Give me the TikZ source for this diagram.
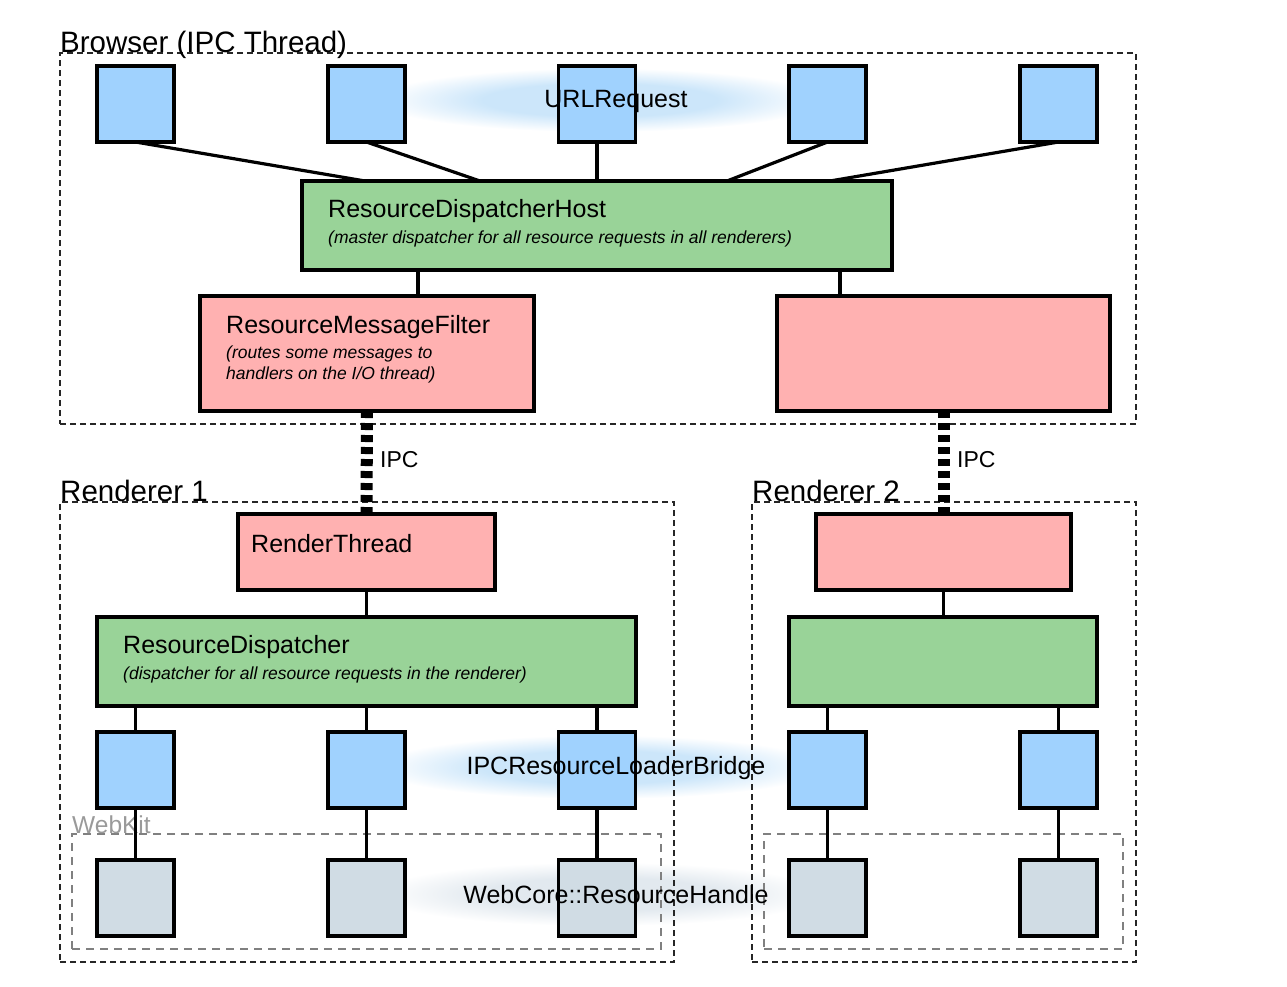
\documentclass[tikz,border=0pt]{standalone}
\usepackage{fontspec}
\setmainfont{Liberation Sans}
\usetikzlibrary{calc}
\definecolor{cblue}{HTML}{A0D2FE}
\definecolor{cgreen}{HTML}{99D398}
\definecolor{cpink}{HTML}{FFB1B1}
\definecolor{cgray}{HTML}{D0DCE4}
\definecolor{glowb}{HTML}{CCE6FA}
\definecolor{glowg}{HTML}{E2E9EF}
\definecolor{wkgray}{HTML}{808080}
\pgfdeclareradialshading{glowblue}{\pgfpoint{0bp}{0bp}}{color(0bp)=(glowb); color(13bp)=(glowb); color(25bp)=(white); color(50bp)=(white)}
\pgfdeclareradialshading{glowgray}{\pgfpoint{0bp}{0bp}}{color(0bp)=(glowg); color(13bp)=(glowg); color(25bp)=(white); color(50bp)=(white)}
\tikzset{
  fs/.style={font=\fontsize{#1}{#1}\selectfont},
  boxbase/.style={draw=black, line width=3.2pt, inner sep=0pt, outer sep=0pt},
  sq/.style={boxbase, minimum width=77pt, minimum height=76pt},
  bsq/.style={sq, fill=cblue},
  gsq/.style={sq, fill=cgray},
  pinkbox/.style={boxbase, fill=cpink},
  greenbox/.style={boxbase, fill=cgreen},
  conn/.style={line width=3.2pt},
  container/.style={draw=black!85, line width=1.6pt, dash pattern=on 6pt off 4pt, inner sep=0pt},
  wkbox/.style={draw=wkgray, line width=2.6pt, dash pattern=on 8pt off 6pt, inner sep=0pt},
  ipc/.style={line width=12pt, dash pattern=on 7pt off 5pt},
  lbl/.style={fs=29.5, inner sep=0pt, anchor=base west},
  ttl/.style={fs=25, inner sep=0pt, anchor=west},
  sub/.style={inner sep=0pt, anchor=west, font=\fontsize{17.5}{21}\selectfont\itshape, align=left},
}
\begin{document}
\begin{tikzpicture}[x=1pt,y=-1pt]
\useasboundingbox (0,0) rectangle (1287,986);
% glows
\shade[shading=glowblue] (600,100) ellipse (225 and 32);
\shade[shading=glowblue] (600,767) ellipse (225 and 32);
\shade[shading=glowgray] (600,894) ellipse (225 and 32);
% containers
\node[container, minimum width=1076pt, minimum height=371pt] (browser) at (598,238.5) {};
\node[container, minimum width=614pt, minimum height=460pt] (r1) at (367,732) {};
\node[container, minimum width=384pt, minimum height=460pt] (r2) at (944,732) {};
\node[wkbox, minimum width=589pt, minimum height=115pt] (wk1) at (366.5,891.5) {};
\node[wkbox, minimum width=359pt, minimum height=115pt] (wk2) at (943.5,891.5) {};
\node[lbl] (browserlbl) at (60,52) {Browser (IPC Thread)};
\node[lbl] (r1lbl) at (60,501) {Renderer 1};
\node[lbl] (r2lbl) at (752,501) {Renderer 2};
\node[lbl, fs=24.5, text=wkgray!80] (wklbl) at (72,833) {WebKit};
% top squares
\node[bsq] (u1) at (135.5,104) {};
\node[bsq] (u2) at (366.5,104) {};
\node[bsq] (u3) at (597,104) {};
\node[bsq] (u4) at (827.5,104) {};
\node[bsq] (u5) at (1058.5,104) {};
% browser boxes
\node[greenbox, minimum width=590pt, minimum height=89pt] (rdh) at (597,225.5) {};
\node[pinkbox, minimum width=334pt, minimum height=115pt] (rmf) at (367,353.5) {};
\node[pinkbox, minimum width=333pt, minimum height=115pt] (rp2) at (943.5,353.5) {};
% renderer boxes
\node[pinkbox, minimum width=257pt, minimum height=76pt] (rt) at (366.5,552) {};
\node[pinkbox, minimum width=255pt, minimum height=76pt] (rt2) at (943.5,552) {};
\node[greenbox, minimum width=539pt, minimum height=89pt] (rd) at (366.5,661.5) {};
\node[greenbox, minimum width=308pt, minimum height=89pt] (rd2) at (943,661.5) {};
% bottom squares
\node[bsq] (b1) at (135.5,770) {};
\node[bsq] (b2) at (366.5,770) {};
\node[bsq] (b3) at (597,770) {};
\node[bsq] (b4) at (827.5,770) {};
\node[bsq] (b5) at (1058.5,770) {};
\node[gsq] (g1) at (135.5,898) {};
\node[gsq] (g2) at (366.5,898) {};
\node[gsq] (g3) at (597,898) {};
\node[gsq] (g4) at (827.5,898) {};
\node[gsq] (g5) at (1058.5,898) {};
% connectors top
\draw[conn] (u1.south) -- ($(rdh.north)+(-232,0)$);
\draw[conn] (u2.south) -- ($(rdh.north)+(-117,0)$);
\draw[conn] (u3.south) -- (rdh.north);
\draw[conn] (u4.south) -- ($(rdh.north)+(130,0)$);
\draw[conn] (u5.south) -- ($(rdh.north)+(233,0)$);
\draw[conn] ($(rmf.north west)+(218,0)$) coordinate (c1) -- (c1 |- rdh.south);
\draw[conn] ($(rp2.north west)+(63,0)$) coordinate (c2) -- (c2 |- rdh.south);
% IPC
\draw[ipc] (rmf.south) -- (rt.north);
\draw[ipc] (rp2.south) -- (rt2.north);
\node[ttl, fs=23] (ipc1) at (380,460) {IPC};
\node[ttl, fs=23] (ipc2) at (957,460) {IPC};
% renderer connectors
\draw[conn] (rt.south) -- (rd.north);
\draw[conn] (rt2.south) -- (rt2.south |- rd2.north);
\foreach \b in {b1,b2,b3}{\draw[conn] (\b.north) -- (\b.north |- rd.south);}
\foreach \b in {b4,b5}{\draw[conn] (\b.north) -- (\b.north |- rd2.south);}
\foreach \i in {1,...,5}{\draw[conn] (b\i.south) -- (g\i.north);}
% texts
\node[ttl] (rdht) at (328,211) {ResourceDispatcherHost};
\node[sub] (rdhs) at (328,239) {(master dispatcher for all resource requests in all renderers)};
\node[ttl] (rmft) at (226,327) {ResourceMessageFilter};
\node[sub, anchor=north west] (rmfs) at (226,346) {(routes some messages to\\[0pt]handlers on the I/O thread)};
\node[ttl] (rtt) at (251,544) {RenderThread};
\node[ttl] (rdt) at (123,647) {ResourceDispatcher};
\node[sub] (rds) at (123,675) {(dispatcher for all resource requests in the renderer)};
\node[fs=25, inner sep=0pt] (urlt) at (616,101) {URLRequest};
\node[fs=25, inner sep=0pt] (ipct) at (616,768) {IPCResourceLoaderBridge};
\node[fs=25, inner sep=0pt] (wct) at (616,895) {WebCore::ResourceHandle};
\end{tikzpicture}
\end{document}
